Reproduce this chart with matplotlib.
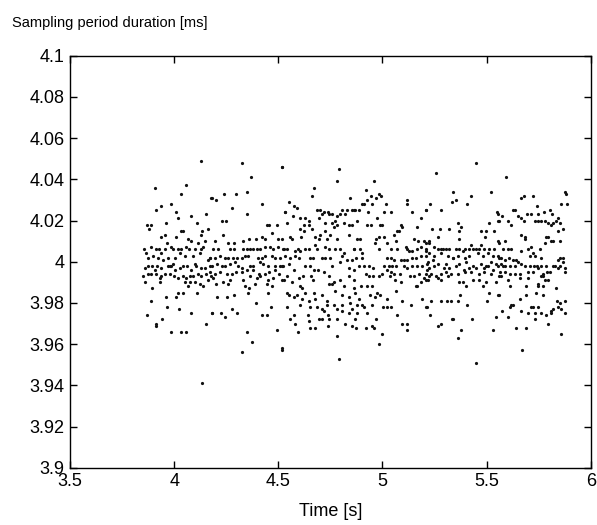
import matplotlib
matplotlib.use("Agg")
import matplotlib.pyplot as plt
import numpy as np

# Measured sampling periods: time stamp [s] and period duration [ms]
time_s = [
    4.127, 3.906, 4.058, 4.031, 4.178, 3.914, 3.938, 3.983, 4.010, 4.018, 4.082, 4.154,
    3.871, 3.887, 3.877, 3.962, 4.111, 4.034, 4.042, 4.133, 4.162, 3.935, 3.957, 4.010,
    4.066, 4.082, 4.114, 4.146, 4.130, 3.855, 3.866, 3.890, 3.914, 3.925, 3.938, 3.954,
    3.967, 3.986, 3.994, 4.018, 4.034, 4.058, 4.069, 4.098, 4.130, 4.138, 4.170, 4.162,
    3.874, 3.898, 3.922, 3.946, 3.970, 4.002, 4.026, 4.050, 4.090, 4.122, 3.858, 3.874,
    3.893, 3.909, 3.919, 3.938, 3.970, 3.978, 3.986, 3.994, 4.005, 4.026, 4.042, 4.063,
    4.082, 4.098, 4.106, 4.127, 4.146, 4.170, 3.850, 3.874, 3.890, 3.914, 3.930, 3.938,
    3.954, 3.978, 3.999, 4.018, 4.042, 4.058, 4.074, 4.090, 4.114, 4.130, 4.154, 4.178,
    3.861, 3.930, 4.050, 4.074, 4.098, 4.122, 4.138, 4.162, 3.893, 3.962, 4.010, 4.018,
    4.042, 4.066, 4.111, 3.887, 3.967, 4.023, 3.868, 3.914, 3.914, 3.941, 4.082, 4.154,
    4.181, 3.986, 4.034, 4.058, 4.133,
    4.324, 4.516, 4.367, 4.180, 4.201, 4.239, 4.297, 4.348, 4.276, 4.348, 4.420, 4.532,
    4.228, 4.249, 4.447, 4.457, 4.492, 4.233, 4.468, 4.516, 4.196, 4.260, 4.287, 4.332,
    4.361, 4.393, 4.420, 4.436, 4.500, 4.188, 4.212, 4.268, 4.287, 4.332, 4.348, 4.364,
    4.380, 4.396, 4.412, 4.436, 4.460, 4.476, 4.500, 4.524, 4.172, 4.196, 4.220, 4.244,
    4.260, 4.284, 4.300, 4.324, 4.340, 4.356, 4.404, 4.420, 4.436, 4.468, 4.484, 4.508,
    4.180, 4.204, 4.228, 4.244, 4.268, 4.292, 4.308, 4.324, 4.364, 4.380, 4.412, 4.428,
    4.452, 4.484, 4.508, 4.524, 4.172, 4.196, 4.220, 4.252, 4.276, 4.297, 4.324, 4.348,
    4.380, 4.409, 4.436, 4.457, 4.484, 4.505, 4.188, 4.236, 4.268, 4.332, 4.364, 4.396,
    4.412, 4.452, 4.473, 4.516, 4.201, 4.260, 4.340, 4.361, 4.388, 4.444, 4.468, 4.207,
    4.252, 4.289, 4.356, 4.452, 4.393, 4.465, 4.276, 4.180, 4.225, 4.244, 4.303, 4.420,
    4.447, 4.492, 4.348, 4.375, 4.324, 4.516,
    4.518, 4.790, 4.782, 4.673, 4.662, 4.846, 4.550, 4.574, 4.590, 4.534, 4.542, 4.686,
    4.702, 4.718, 4.739, 4.758, 4.806, 4.830, 4.854, 4.870, 4.569, 4.606, 4.630, 4.646,
    4.694, 4.710, 4.742, 4.782, 4.798, 4.822, 4.774, 4.606, 4.622, 4.646, 4.662, 4.726,
    4.758, 4.782, 4.814, 4.838, 4.854, 4.766, 4.558, 4.566, 4.622, 4.611, 4.678, 4.702,
    4.726, 4.750, 4.694, 4.734, 4.782, 4.838, 4.526, 4.542, 4.579, 4.595, 4.606, 4.630,
    4.646, 4.678, 4.686, 4.723, 4.742, 4.774, 4.798, 4.814, 4.862, 4.534, 4.558, 4.582,
    4.598, 4.654, 4.665, 4.710, 4.726, 4.750, 4.806, 4.830, 4.854, 4.518, 4.550, 4.574,
    4.630, 4.654, 4.670, 4.691, 4.718, 4.758, 4.798, 4.838, 4.862, 4.542, 4.601, 4.617,
    4.659, 4.742, 4.766, 4.798, 4.838, 4.862, 4.526, 4.566, 4.606, 4.614, 4.667, 4.742,
    4.758, 4.771, 4.814, 4.542, 4.550, 4.574, 4.590, 4.630, 4.670, 4.710, 4.806, 4.838,
    4.867, 4.614, 4.646, 4.678, 4.734, 4.734, 4.766, 4.806, 4.846, 4.542, 4.606, 4.654,
    4.686, 4.710, 4.718, 4.782, 4.806, 4.838, 4.854, 4.574, 4.558, 4.582, 4.643, 4.646,
    4.654, 4.678, 4.694, 4.710, 4.739, 4.742, 4.782, 4.822, 4.854, 4.867, 4.595, 4.737,
    4.782, 4.518, 4.790,
    4.959, 4.919, 4.943, 4.983, 4.994, 4.967, 4.927, 4.863, 4.887, 4.903, 4.911, 4.951,
    5.015, 5.116, 5.119, 4.930, 5.007, 5.039, 5.143, 5.207, 4.879, 4.924, 4.943, 4.975,
    4.988, 4.999, 5.087, 5.092, 5.167, 5.183, 4.879, 4.892, 4.967, 4.983, 5.007, 5.055,
    5.071, 5.079, 5.063, 5.111, 5.151, 5.170, 5.199, 5.223, 4.863, 4.892, 4.903, 4.962,
    4.983, 5.023, 5.039, 5.071, 5.116, 5.127, 5.143, 5.167, 5.183, 5.207, 4.871, 4.903,
    5.023, 5.039, 5.055, 5.087, 5.103, 5.119, 5.143, 5.159, 5.183, 5.207, 5.215, 4.887,
    4.911, 4.935, 4.956, 5.007, 5.031, 5.047, 5.063, 5.103, 5.119, 5.143, 5.167, 5.191,
    5.215, 4.919, 4.935, 4.956, 4.999, 5.023, 5.039, 5.055, 5.084, 5.132, 5.151, 5.175,
    5.199, 5.223, 4.863, 4.895, 4.927, 4.951, 4.983, 5.036, 5.058, 5.087, 5.159, 5.167,
    5.183, 5.207, 4.887, 4.940, 4.962, 4.975, 4.988, 5.023, 5.063, 5.191, 4.876, 4.903,
    4.911, 4.951, 5.004, 5.023, 5.039, 5.095, 5.138, 5.215, 4.879, 4.924, 5.068, 4.871,
    4.919, 4.951, 4.959, 4.967, 5.095, 5.119, 5.119, 4.996, 4.983,
    5.449, 5.257, 5.340, 5.425, 5.521, 5.334, 5.353, 5.404, 5.228, 5.209, 5.281, 5.548,
    5.558, 5.513, 5.361, 5.236, 5.276, 5.321, 5.369, 5.377, 5.473, 5.497, 5.537, 5.494,
    5.265, 5.366, 5.209, 5.225, 5.425, 5.473, 5.558, 5.249, 5.265, 5.281, 5.289, 5.305,
    5.321, 5.353, 5.369, 5.385, 5.398, 5.417, 5.433, 5.449, 5.465, 5.489, 5.513, 5.537,
    5.209, 5.225, 5.249, 5.281, 5.313, 5.337, 5.361, 5.398, 5.417, 5.457, 5.481, 5.505,
    5.529, 5.561, 5.217, 5.241, 5.265, 5.305, 5.337, 5.369, 5.401, 5.433, 5.473, 5.497,
    5.521, 5.545, 5.225, 5.249, 5.297, 5.321, 5.353, 5.393, 5.417, 5.449, 5.489, 5.505,
    5.529, 5.209, 5.233, 5.257, 5.281, 5.305, 5.329, 5.361, 5.398, 5.425, 5.465, 5.489,
    5.521, 5.561, 5.217, 5.265, 5.281, 5.313, 5.369, 5.385, 5.401, 5.433, 5.465, 5.497,
    5.545, 5.481, 5.513, 5.561, 5.374, 5.209, 5.233, 5.281, 5.308, 5.329, 5.361, 5.404,
    5.502, 5.228, 5.265, 5.281, 5.334, 5.340, 5.430, 5.545, 5.529, 5.377, 5.361, 5.449,
    5.595, 5.875, 5.883, 5.667, 5.680, 5.723, 5.859, 5.888, 5.627, 5.638, 5.744, 5.555,
    5.574, 5.651, 5.667, 5.680, 5.696, 5.715, 5.747, 5.776, 5.803, 5.814, 5.835, 5.843,
    5.747, 5.731, 5.763, 5.779, 5.795, 5.808, 5.819, 5.851, 5.867, 5.843, 5.619, 5.603,
    5.555, 5.664, 5.683, 5.686, 5.787, 5.795, 5.811, 5.819, 5.851, 5.555, 5.587, 5.779,
    5.579, 5.603, 5.616, 5.667, 5.699, 5.715, 5.755, 5.723, 5.707, 5.731, 5.763, 5.851,
    5.867, 5.843, 5.867, 5.555, 5.571, 5.587, 5.606, 5.627, 5.643, 5.651, 5.568, 5.579,
    5.555, 5.590, 5.611, 5.635, 5.667, 5.683, 5.707, 5.728, 5.744, 5.763, 5.787, 5.819,
    5.827, 5.843, 5.851, 5.875, 5.563, 5.587, 5.611, 5.635, 5.659, 5.699, 5.723, 5.771,
    5.792, 5.803, 5.875, 5.747, 5.571, 5.603, 5.659, 5.699, 5.763, 5.771, 5.779, 5.795,
    5.611, 5.691, 5.747, 5.747, 5.771, 5.835, 5.555, 5.739, 5.771, 5.619, 5.627, 5.611,
    5.659, 5.691, 5.715, 5.723, 5.747, 5.840, 5.851, 5.875, 5.843, 5.859, 5.574, 5.603,
    5.667, 5.699, 5.731, 5.763, 5.787, 5.811, 5.819, 5.875, 5.811, 5.731, 5.795, 5.643,
    5.691, 5.859, 5.670,
]

period_ms = [
    4.049, 4.036, 4.037, 4.033, 4.031, 4.025, 4.027, 4.028, 4.024, 4.021, 4.022, 4.023,
    4.018, 4.018, 4.016, 4.019, 4.019, 4.015, 4.015, 4.015, 4.016, 4.012, 4.013, 4.012,
    4.011, 4.010, 4.009, 4.010, 4.013, 4.006, 4.004, 4.007, 4.006, 4.006, 4.004, 4.006,
    4.009, 4.007, 4.006, 4.006, 4.006, 4.007, 4.006, 4.006, 4.006, 4.007, 4.002, 4.001,
    4.002, 4.003, 4.002, 4.001, 4.002, 4.002, 4.004, 4.003, 4.003, 4.004, 3.997, 3.998,
    3.998, 3.996, 3.998, 3.997, 3.998, 3.998, 3.998, 3.999, 3.996, 3.997, 3.998, 3.998,
    3.996, 3.999, 3.998, 3.997, 3.997, 3.998, 3.993, 3.994, 3.994, 3.994, 3.992, 3.993,
    3.994, 3.994, 3.993, 3.992, 3.993, 3.992, 3.993, 3.993, 3.994, 3.993, 3.994, 3.993,
    3.990, 3.990, 3.990, 3.990, 3.990, 3.989, 3.988, 3.991, 3.987, 3.983, 3.983, 3.985,
    3.985, 3.988, 3.985, 3.981, 3.978, 3.977, 3.974, 3.970, 3.969, 3.972, 3.975, 3.970,
    3.975, 3.966, 3.966, 3.966, 3.941,
    4.048, 4.046, 4.041, 4.031, 4.030, 4.033, 4.033, 4.034, 4.026, 4.023, 4.028, 4.024,
    4.020, 4.020, 4.018, 4.018, 4.018, 4.013, 4.014, 4.011, 4.010, 4.009, 4.009, 4.010,
    4.011, 4.011, 4.012, 4.011, 4.011, 4.006, 4.006, 4.006, 4.006, 4.006, 4.006, 4.006,
    4.006, 4.006, 4.006, 4.007, 4.007, 4.006, 4.007, 4.006, 4.002, 4.002, 4.003, 4.002,
    4.002, 4.002, 4.002, 4.002, 4.003, 4.003, 4.002, 4.002, 4.003, 4.003, 4.002, 4.002,
    3.998, 3.999, 3.998, 3.998, 3.999, 4.000, 3.998, 3.997, 3.998, 3.998, 4.000, 3.999,
    3.998, 3.998, 3.998, 3.998, 3.995, 3.994, 3.995, 3.994, 3.994, 3.995, 3.995, 3.996,
    3.996, 3.994, 3.994, 3.995, 3.996, 3.994, 3.992, 3.990, 3.991, 3.991, 3.993, 3.992,
    3.993, 3.991, 3.992, 3.991, 3.989, 3.989, 3.988, 3.987, 3.989, 3.989, 3.988, 3.983,
    3.983, 3.984, 3.985, 3.985, 3.980, 3.978, 3.977, 3.975, 3.975, 3.973, 3.975, 3.974,
    3.974, 3.967, 3.966, 3.961, 3.956, 3.957,
    4.046, 4.045, 4.039, 4.036, 4.032, 4.031, 4.029, 4.027, 4.026, 4.024, 4.019, 4.025,
    4.025, 4.024, 4.024, 4.023, 4.025, 4.025, 4.025, 4.025, 4.022, 4.021, 4.021, 4.020,
    4.021, 4.023, 4.023, 4.022, 4.023, 4.023, 4.020, 4.016, 4.018, 4.018, 4.016, 4.019,
    4.019, 4.018, 4.019, 4.018, 4.018, 4.017, 4.012, 4.011, 4.015, 4.012, 4.012, 4.013,
    4.015, 4.013, 4.011, 4.011, 4.011, 4.013, 4.006, 4.006, 4.005, 4.006, 4.005, 4.006,
    4.006, 4.008, 4.006, 4.007, 4.006, 4.006, 4.006, 4.004, 4.006, 4.003, 4.002, 4.003,
    4.002, 4.002, 4.002, 4.002, 4.002, 4.002, 4.003, 4.001, 4.001, 3.998, 3.999, 3.996,
    3.998, 3.998, 3.996, 3.996, 3.995, 3.998, 4.000, 3.997, 3.996, 3.993, 3.992, 3.993,
    3.993, 3.993, 3.990, 3.991, 3.993, 3.991, 3.991, 3.990, 3.988, 3.987, 3.991, 3.989,
    3.989, 3.986, 3.988, 3.985, 3.984, 3.983, 3.984, 3.985, 3.985, 3.984, 3.984, 3.983,
    3.985, 3.982, 3.981, 3.982, 3.981, 3.979, 3.979, 3.979, 3.980, 3.978, 3.979, 3.978,
    3.978, 3.977, 3.976, 3.977, 3.976, 3.975, 3.977, 3.974, 3.972, 3.970, 3.974, 3.971,
    3.968, 3.968, 3.972, 3.972, 3.974, 3.972, 3.972, 3.970, 3.969, 3.972, 3.966, 3.969,
    3.964, 3.958, 3.953,
    4.039, 4.035, 4.032, 4.033, 4.032, 4.031, 4.030, 4.025, 4.025, 4.028, 4.028, 4.028,
    4.028, 4.028, 4.030, 4.024, 4.024, 4.024, 4.024, 4.025, 4.020, 4.018, 4.018, 4.021,
    4.018, 4.018, 4.018, 4.017, 4.017, 4.021, 4.011, 4.011, 4.011, 4.012, 4.012, 4.013,
    4.015, 4.015, 4.010, 4.007, 4.011, 4.010, 4.010, 4.010, 4.006, 4.006, 4.004, 4.009,
    4.006, 4.009, 4.006, 4.006, 4.006, 4.005, 4.005, 4.006, 4.007, 4.006, 4.002, 4.002,
    4.002, 4.002, 4.001, 4.001, 4.001, 4.001, 4.002, 4.002, 4.003, 4.003, 3.999, 3.998,
    3.998, 3.998, 3.997, 3.998, 3.998, 3.998, 3.998, 3.998, 3.997, 3.998, 3.998, 3.998,
    3.996, 3.994, 3.993, 3.993, 3.994, 3.996, 3.995, 3.994, 3.994, 3.993, 3.993, 3.994,
    3.992, 3.993, 3.987, 3.988, 3.988, 3.988, 3.993, 3.993, 3.991, 3.990, 3.988, 3.988,
    3.990, 3.991, 3.982, 3.984, 3.983, 3.985, 3.984, 3.982, 3.986, 3.982, 3.979, 3.979,
    3.978, 3.979, 3.978, 3.978, 3.978, 3.981, 3.979, 3.978, 3.975, 3.975, 3.974, 3.968,
    3.968, 3.969, 3.968, 3.972, 3.970, 3.970, 3.967, 3.965, 3.960,
    4.048, 4.043, 4.034, 4.032, 4.034, 4.029, 4.030, 4.028, 4.028, 4.025, 4.025, 4.024,
    4.020, 4.019, 4.019, 4.016, 4.016, 4.016, 4.015, 4.017, 4.015, 4.015, 4.015, 4.012,
    4.012, 4.011, 4.009, 4.009, 4.008, 4.008, 4.009, 4.007, 4.006, 4.006, 4.006, 4.006,
    4.006, 4.006, 4.006, 4.005, 4.006, 4.006, 4.006, 4.006, 4.006, 4.006, 4.006, 4.006,
    4.005, 4.004, 4.003, 4.004, 4.003, 4.002, 4.003, 4.002, 4.003, 4.004, 4.003, 4.004,
    4.003, 4.002, 4.000, 4.001, 3.999, 3.999, 4.002, 3.999, 4.000, 3.998, 3.999, 3.998,
    4.000, 3.999, 3.997, 3.998, 3.997, 3.997, 3.998, 3.996, 3.997, 3.997, 3.997, 3.998,
    3.996, 3.994, 3.994, 3.993, 3.994, 3.995, 3.994, 3.994, 3.995, 3.995, 3.994, 3.995,
    3.994, 3.993, 3.991, 3.992, 3.991, 3.993, 3.990, 3.990, 3.988, 3.991, 3.991, 3.990,
    3.990, 3.988, 3.985, 3.984, 3.984, 3.978, 3.981, 3.981, 3.981, 3.981, 3.981, 3.979,
    3.981, 3.974, 3.969, 3.970, 3.972, 3.972, 3.972, 3.973, 3.967, 3.967, 3.963, 3.951,
    4.041, 4.034, 4.033, 4.031, 4.032, 4.032, 4.028, 4.028, 4.025, 4.025, 4.027, 4.023,
    4.022, 4.022, 4.021, 4.020, 4.023, 4.023, 4.023, 4.024, 4.025, 4.023, 4.020, 4.021,
    4.020, 4.020, 4.020, 4.020, 4.019, 4.018, 4.019, 4.019, 4.016, 4.015, 4.018, 4.020,
    4.020, 4.013, 4.012, 4.011, 4.012, 4.012, 4.010, 4.010, 4.010, 4.010, 4.010, 4.009,
    4.006, 4.006, 4.006, 4.005, 4.006, 4.007, 4.006, 4.004, 4.003, 4.003, 4.002, 4.002,
    4.002, 4.001, 4.000, 4.003, 4.002, 4.001, 4.002, 4.001, 4.001, 4.000, 3.999, 3.998,
    3.998, 3.998, 3.998, 3.998, 3.999, 3.998, 3.998, 3.998, 3.998, 3.998, 3.998, 3.998,
    3.998, 3.997, 3.998, 3.997, 3.995, 3.995, 3.994, 3.994, 3.994, 3.995, 3.995, 3.994,
    3.995, 3.995, 3.995, 3.997, 3.993, 3.991, 3.992, 3.992, 3.993, 3.993, 3.991, 3.991,
    3.988, 3.988, 3.989, 3.988, 3.988, 3.987, 3.984, 3.985, 3.984, 3.979, 3.979, 3.978,
    3.982, 3.984, 3.978, 3.978, 3.978, 3.981, 3.980, 3.981, 3.978, 3.977, 3.976, 3.973,
    3.976, 3.975, 3.975, 3.975, 3.974, 3.976, 3.977, 3.975, 3.975, 3.972, 3.970, 3.968,
    3.968, 3.965, 3.957,
]

x_ticks = [3.5, 4, 4.5, 5, 5.5, 6]
y_ticks = [3.9, 3.92, 3.94, 3.96, 3.98, 4.0, 4.02, 4.04, 4.06, 4.08, 4.1]

plt.rcParams['font.family'] = ['Liberation Sans', 'DejaVu Sans']

fig = plt.figure(figsize=(5.97, 5.25), dpi=100)
ax = fig.add_axes([0.1173, 0.1091, 0.8722, 0.7848])

ax.plot(time_s, period_ms, linestyle='none', marker='o', markersize=2.3,
        markeredgewidth=0, color='#111111')

ax.set_xlim(3.5, 6)
ax.set_ylim(3.9, 4.1)
ax.set_xticks(x_ticks)
ax.set_yticks(y_ticks)
ax.set_xticklabels(['%g' % v for v in x_ticks])
ax.set_yticklabels(['%g' % v for v in y_ticks])

ax.tick_params(direction='in', length=5, width=1.0, top=True, right=True,
               labelsize=13, pad=4, colors='black')
for side in ax.spines.values():
    side.set_linewidth(1.0)
    side.set_color('black')

ax.set_xlabel('Time [s]', fontsize=13, labelpad=9)
fig.text(12 / 597, 1 - 23 / 525, 'Sampling period duration [ms]',
         fontsize=10.5, ha='left', va='center')

fig.savefig('out.png', dpi=100)
